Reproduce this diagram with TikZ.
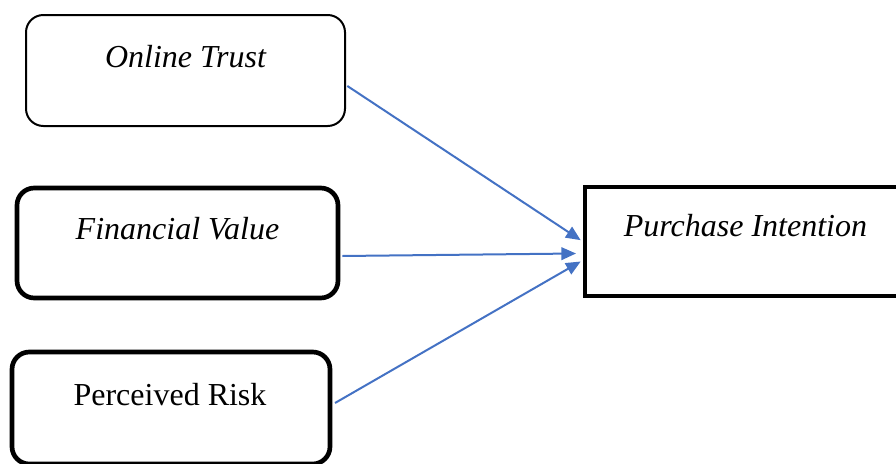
\documentclass[tikz,border=0pt]{standalone}
\usepackage{fontspec}
\setmainfont{Liberation Serif}
\usetikzlibrary{arrows.meta,calc}
\definecolor{arrowblue}{HTML}{4472C4}
\begin{document}
\begin{tikzpicture}[x=0.75pt,y=-0.75pt,
  thinbox/.style={draw=black,line width=1.5pt,rounded corners=13pt,minimum width=#1,inner sep=0pt},
  thickbox/.style={draw=black,line width=3.5pt,rounded corners=13pt,inner sep=0pt},
  sharpbox/.style={draw=black,line width=3.5pt,inner sep=0pt},
  label/.style={anchor=base,inner sep=0pt,font=\fontsize{24}{28}\selectfont},
  link/.style={draw=arrowblue,line width=1.5pt,-{Triangle[length=11pt,width=9.5pt]}}]
\useasboundingbox (0,0) rectangle (896,464);
\clip (0,0) rectangle (896,464);
\node[thinbox=239.25pt,minimum height=83.25pt] (ot) at (185.5,70.5) {};
\node[thickbox,minimum width=240.75pt,minimum height=82.5pt] (fv) at (177.5,243) {};
\node[thickbox,minimum width=238.5pt,minimum height=84pt] (pr) at (171,408) {};
\node[sharpbox,minimum width=240pt,minimum height=81.75pt] (pi) at (745,241.5) {};
\node[label] (tot) at (185.5,67) {\itshape Online Trust};
\node[label] (tfv) at (177.5,239) {\itshape Financial Value};
\node[label] (tpr) at (170,405) {Perceived Risk};
\node[label] (tpi) at (745.5,236.5) {\itshape Purchase Intention};
\draw[link] ([xshift=1pt,yshift=-11.6pt]ot.east) -- ([xshift=-1.5pt,yshift=1pt]pi.west);
\draw[link] ([xshift=1.5pt,yshift=-9.75pt]fv.east) -- ([xshift=-5pt,yshift=-9pt]pi.west);
\draw[link] ([xshift=2pt,yshift=3.75pt]pr.east) -- ([xshift=-1.5pt,yshift=-15pt]pi.west);
\end{tikzpicture}
\end{document}
